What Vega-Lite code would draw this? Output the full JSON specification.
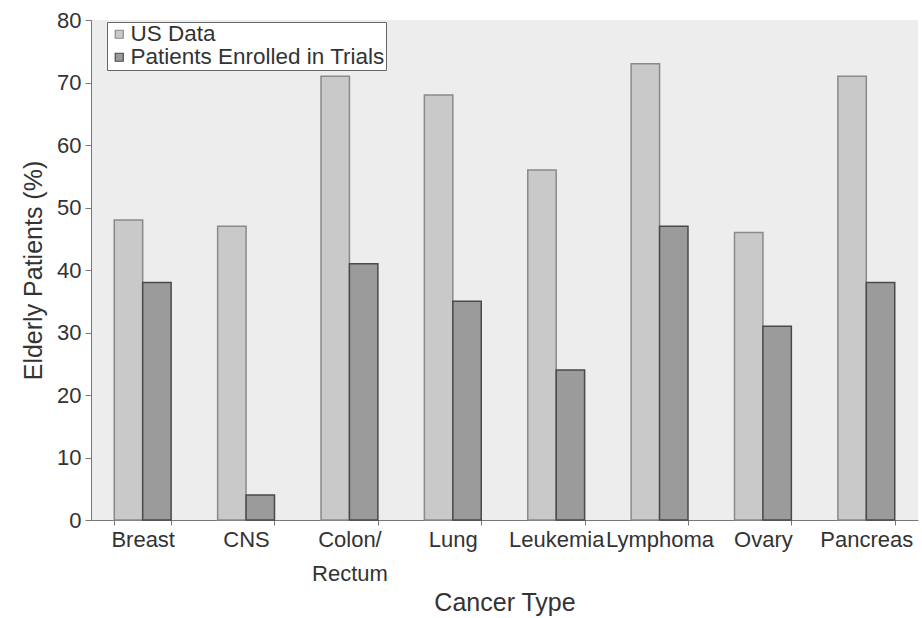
{
  "$schema": "https://vega.github.io/schema/vega-lite/v6.json",
  "autosize": {"type": "none"},
  "padding": {"left": 91, "top": 20, "right": 4, "bottom": 98},
  "width": 827,
  "height": 500,
  "background": "white",
  "config": {
    "font": "Liberation Sans",
    "view": {"fill": "#ededed", "stroke": null},
    "axis": {
      "labelFont": "Liberation Sans",
      "titleFont": "Liberation Sans",
      "labelFontSize": 22,
      "titleFontSize": 25,
      "titleFontWeight": "normal",
      "labelColor": "#333333",
      "titleColor": "#333333",
      "domainColor": "#777777",
      "tickColor": "#777777",
      "grid": false
    }
  },
  "data": {
    "values": [
      {"cancer": "Breast", "series": "US Data", "pct": 48},
      {"cancer": "Breast", "series": "Patients Enrolled in Trials", "pct": 38},
      {"cancer": "CNS", "series": "US Data", "pct": 47},
      {"cancer": "CNS", "series": "Patients Enrolled in Trials", "pct": 4},
      {"cancer": "Colon/ Rectum", "series": "US Data", "pct": 71},
      {"cancer": "Colon/ Rectum", "series": "Patients Enrolled in Trials", "pct": 41},
      {"cancer": "Lung", "series": "US Data", "pct": 68},
      {"cancer": "Lung", "series": "Patients Enrolled in Trials", "pct": 35},
      {"cancer": "Leukemia", "series": "US Data", "pct": 56},
      {"cancer": "Leukemia", "series": "Patients Enrolled in Trials", "pct": 24},
      {"cancer": "Lymphoma", "series": "US Data", "pct": 73},
      {"cancer": "Lymphoma", "series": "Patients Enrolled in Trials", "pct": 47},
      {"cancer": "Ovary", "series": "US Data", "pct": 46},
      {"cancer": "Ovary", "series": "Patients Enrolled in Trials", "pct": 31},
      {"cancer": "Pancreas", "series": "US Data", "pct": 71},
      {"cancer": "Pancreas", "series": "Patients Enrolled in Trials", "pct": 38}
    ]
  },
  "mark": {"type": "bar", "strokeWidth": 1.5},
  "encoding": {
    "x": {
      "field": "cancer",
      "type": "nominal",
      "sort": null,
      "title": "Cancer Type",
      "scale": {"paddingInner": 0.45, "paddingOuter": 0.225},
      "axis": {
        "labelAngle": 0,
        "labelExpr": "split(datum.label, ' ')",
        "labelLineHeight": 34,
        "labelPadding": 4,
        "labelLimit": 200,
        "tickBand": "extent",
        "tickSize": 5,
        "titlePadding": 6
      }
    },
    "xOffset": {"field": "series", "type": "nominal", "sort": ["US Data", "Patients Enrolled in Trials"]},
    "y": {
      "field": "pct",
      "type": "quantitative",
      "title": "Elderly Patients (%)",
      "scale": {"domain": [0, 80]},
      "axis": {"values": [0, 10, 20, 30, 40, 50, 60, 70, 80], "tickSize": 6, "labelPadding": 4, "titlePadding": 10}
    },
    "fill": {
      "field": "series",
      "type": "nominal",
      "sort": ["US Data", "Patients Enrolled in Trials"],
      "scale": {"domain": ["US Data", "Patients Enrolled in Trials"], "range": ["#c9c9c9", "#9b9b9b"]},
      "legend": {
        "title": null,
        "orient": "none",
        "legendX": 16,
        "legendY": 2,
        "direction": "vertical",
        "labelFont": "Liberation Sans",
        "labelFontSize": 22.5,
        "labelLimit": 400,
        "labelColor": "#333333",
        "symbolType": "square",
        "symbolSize": 64,
        "symbolStrokeWidth": 1.2,
        "labelOffset": 0,
        "rowPadding": 0,
        "padding": 1,
        "fillColor": "white",
        "strokeColor": "#666666"
      }
    },
    "stroke": {
      "field": "series",
      "type": "nominal",
      "sort": ["US Data", "Patients Enrolled in Trials"],
      "scale": {"domain": ["US Data", "Patients Enrolled in Trials"], "range": ["#8a8a8a", "#4a4a4a"]},
      "legend": null
    }
  }
}
